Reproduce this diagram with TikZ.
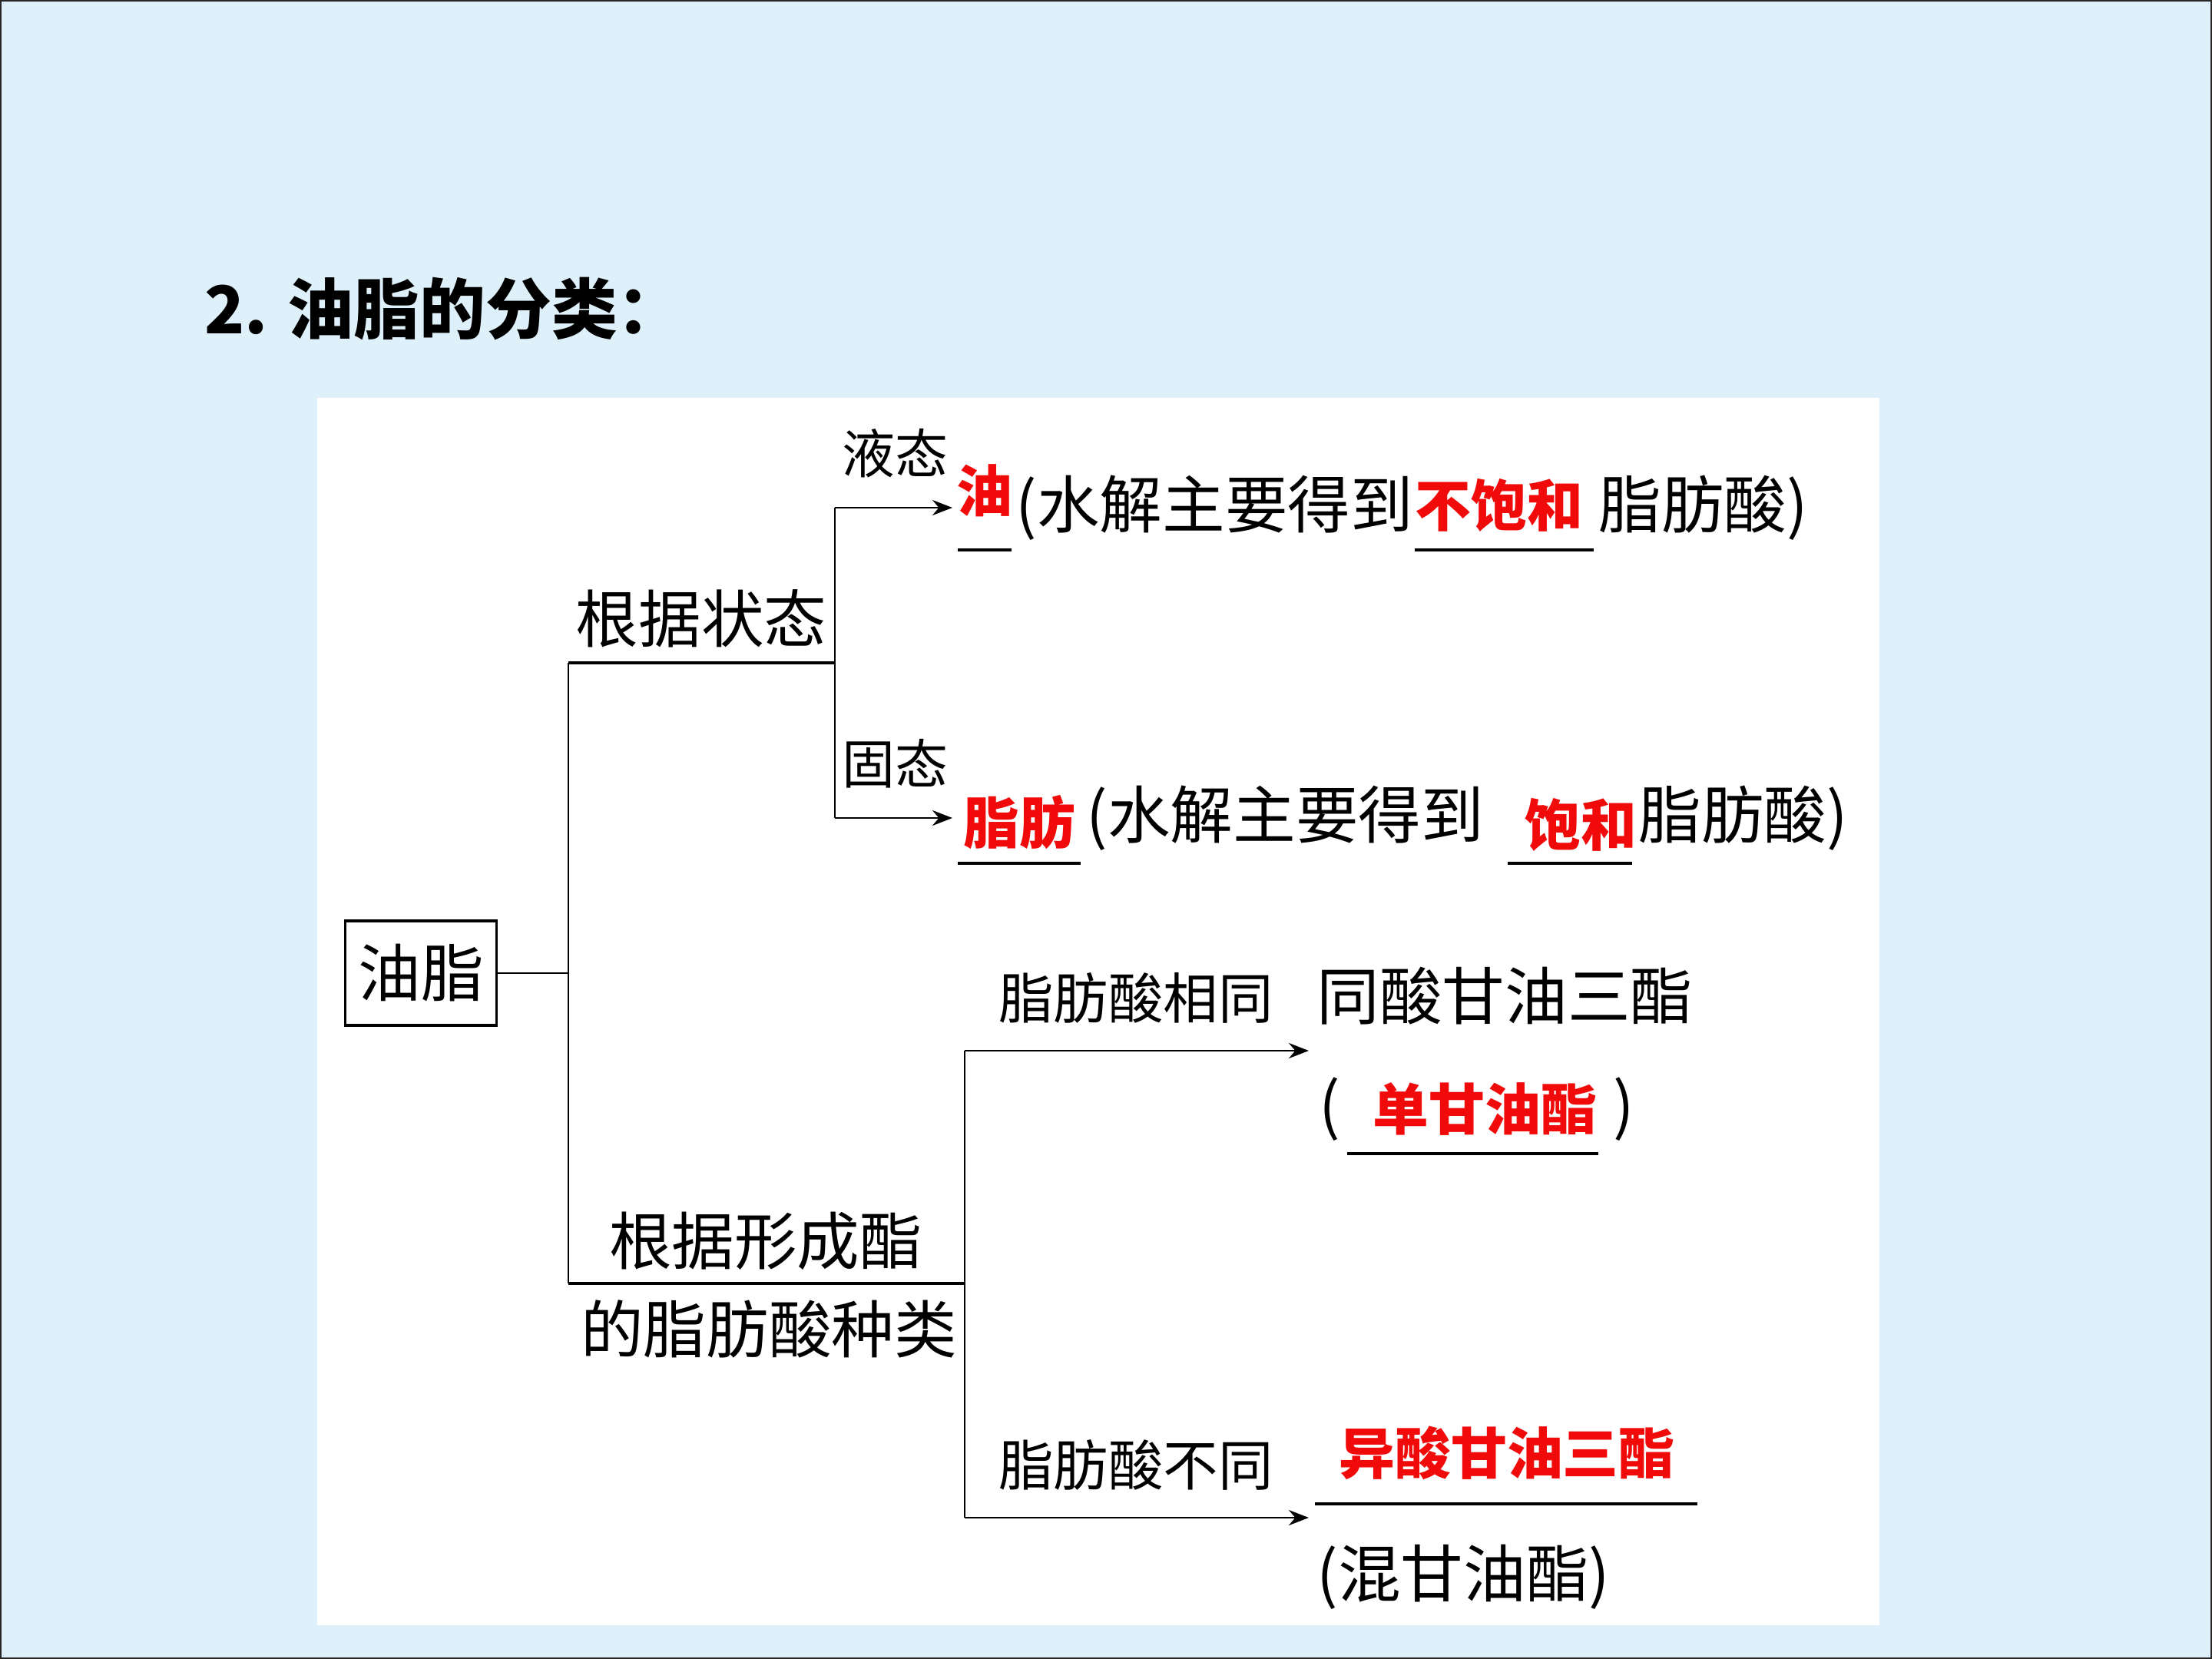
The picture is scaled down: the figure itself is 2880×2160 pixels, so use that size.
\documentclass[tikz,border=0pt]{standalone}
\usepackage{fontspec}
\setmainfont{Noto Sans CJK SC}
\usetikzlibrary{arrows.meta}
\definecolor{bg}{RGB}{222,240,250}
\definecolor{hl}{RGB}{240,10,10}
\begin{document}
\begin{tikzpicture}[x=0.01cm,y=-0.01cm,
  txt/.style={inner sep=0pt, font=\fontsize{23.2}{28}\selectfont},
  sm/.style={inner sep=0pt, font=\fontsize{19.6}{24}\selectfont},
  mid/.style={inner sep=0pt, font=\fontsize{20.3}{25}\selectfont},
  ans/.style={inner sep=0pt, text=hl, font=\fontsize{20.7}{25}\selectfont\bfseries},
  uline/.style={line width=1.1pt},
  conn/.style={line width=0.5pt},
  arr/.style={line width=0.8pt, -{Stealth[length=0.26cm,width=0.2cm]}}]
\useasboundingbox (0,0) rectangle (2880,2160);
\fill[bg] (0,0) rectangle (2880,2160);
\draw[line width=1.2pt, black!85] (0,0) rectangle (2880,2160);
\fill[white] (413,518) rectangle (2447,2116);

% title
\node[anchor=west, inner sep=0pt, font=\fontsize{24.4}{30}\selectfont\bfseries] (title) at (266,402) {2.\hspace{0.3em}油脂的分类：};

% root
\node[draw, line width=1pt, minimum width=1.97cm, minimum height=1.36cm, txt] (root) at (548,1267) {油脂};
\coordinate (j0) at (740,1267);
\coordinate (j0top) at (740,863);
\coordinate (j0bot) at (740,1671);
\draw[conn] (root.east) -- (j0);
\draw[conn] (j0top) -- (j0bot);

% upper branch
\node[txt] (s1) at (913,805) {根据状态};
\coordinate (b1top) at (1087,661);
\coordinate (b1bot) at (1087,1065);
\coordinate (b1mid) at (1087,863);
\draw[uline] (j0top) -- (b1mid);
\draw[conn] (b1top) -- (b1bot);
\coordinate (a1) at (1240,661);
\coordinate (a2) at (1240,1065);
\draw[arr] (b1top) -- (a1);
\draw[arr] (b1bot) -- (a2);
\node[sm] (l1) at (1165,590) {液态};
\node[sm] (l2) at (1165,994) {固态};

\node[ans, anchor=west] (oil) at (1245,639) {油};
\draw[uline] (1247,716) -- (1317,716);
\node[txt, anchor=west] (t1a) at (1322,661) {(水解主要得到};
\node[ans, anchor=west] (t1b) at (1842,658) {不饱和};
\draw[uline] (1842,716) -- (2075,716);
\node[txt, anchor=west] (t1c) at (2081,661) {脂肪酸)};

\node[ans, anchor=west] (fat) at (1254,1071) {脂肪};
\draw[uline] (1247,1124) -- (1407,1124);
\node[txt, anchor=west] (t2a) at (1414,1065) {(水解主要得到};
\node[ans, anchor=west] (t2b) at (1985,1074) {饱和};
\draw[uline] (1963,1124) -- (2125,1124);
\node[txt, anchor=west] (t2c) at (2133,1065) {脂肪酸)};

% lower branch
\node[txt] (s2a) at (997,1616) {根据形成酯};
\node[txt] (s2b) at (1001,1730) {的脂肪酸种类};
\coordinate (b2mid) at (1256,1671);
\coordinate (b2top) at (1256,1368);
\coordinate (b2bot) at (1256,1976);
\draw[uline] (j0bot) -- (b2mid);
\draw[conn] (b2top) -- (b2bot);
\coordinate (a3) at (1704,1368);
\coordinate (a4) at (1704,1976);
\draw[arr] (b2top) -- (a3);
\draw[arr] (b2bot) -- (a4);
\node[mid] (l3) at (1479,1299) {脂肪酸相同};
\node[mid] (l4) at (1479,1907) {脂肪酸不同};

\node[txt, anchor=west] (r1) at (1714,1297) {同酸甘油三酯};
\node[txt, anchor=west] (r1p) at (1717,1444) {(};
\node[ans, anchor=west] (r1a) at (1787,1444) {单甘油酯};
\node[txt, anchor=west] (r1q) at (2100,1444) {)};
\draw[uline] (1754,1502) -- (2081,1502);

\node[ans] (r2) at (1962,1892) {异酸甘油三酯};
\draw[uline] (1712,1958) -- (2210,1958);
\node[txt, anchor=west] (r2a) at (1714,2053) {(混甘油酯)};
\end{tikzpicture}
\end{document}
